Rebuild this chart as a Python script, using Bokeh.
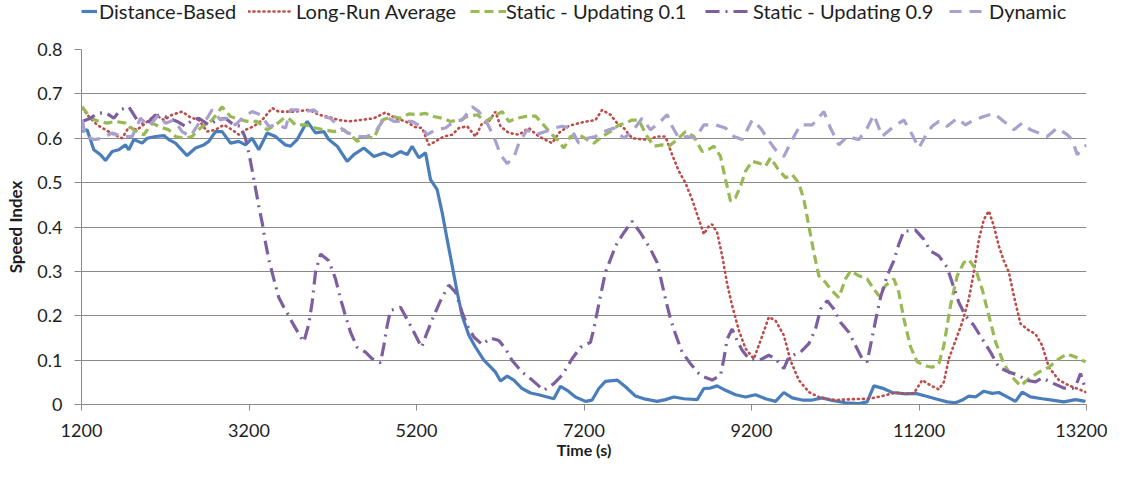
from bokeh.plotting import figure
from bokeh.layouts import column
from bokeh.models import Range1d, Legend, LegendItem, FixedTicker, SingleIntervalTicker
from bokeh.embed import file_html
from bokeh.resources import INLINE

# ---------------- data ----------------
t_distance = [1208, 1267, 1347, 1427, 1486, 1566, 1645, 1725, 1765, 1825, 1924, 1984, 2083, 2183, 2242,
              2322, 2461, 2561, 2660, 2720, 2800, 2879, 2979, 3078, 3158, 3237, 3317, 3417, 3516, 3635,
              3696, 3775, 3895, 3994, 4094, 4153, 4253, 4372, 4452, 4571, 4691, 4810, 4910, 5009, 5089,
              5148, 5228, 5308, 5367, 5447, 5507, 5566, 5626, 5686, 5745, 5825, 5905, 6004, 6104, 6143,
              6203, 6282, 6362, 6461, 6561, 6660, 6760, 6840, 6919, 6999, 7098, 7218, 7297, 7377, 7456,
              7596, 7695, 7815, 7934, 8073, 8173, 8272, 8392, 8551, 8631, 8710, 8790, 8890, 9009, 9129,
              9248, 9367, 9487, 9586, 9686, 9805, 9925, 10044, 10163, 10323, 10482, 10581, 10661, 10760,
              10880, 11039, 11158, 11278, 11417, 11537, 11636, 11716, 11795, 11875, 11974, 12074, 12153,
              12253, 12352, 12432, 12531, 12671, 12790, 12929, 13069, 13188]
distance_based = [0.615, 0.619, 0.574, 0.563, 0.55, 0.57, 0.574, 0.585, 0.574, 0.597, 0.589, 0.6, 0.604,
                  0.606, 0.597, 0.589, 0.561, 0.578, 0.585, 0.593, 0.615, 0.615, 0.589, 0.593, 0.585, 0.6,
                  0.574, 0.612, 0.604, 0.585, 0.582, 0.597, 0.638, 0.612, 0.615, 0.597, 0.582, 0.548, 0.563,
                  0.578, 0.559, 0.567, 0.559, 0.57, 0.563, 0.582, 0.556, 0.567, 0.507, 0.484, 0.432, 0.372,
                  0.313, 0.253, 0.2, 0.156, 0.129, 0.1, 0.081, 0.073, 0.053, 0.064, 0.055, 0.036, 0.026,
                  0.022, 0.017, 0.013, 0.041, 0.032, 0.017, 0.007, 0.01, 0.036, 0.052, 0.055, 0.04, 0.019,
                  0.012, 0.007, 0.011, 0.017, 0.013, 0.011, 0.036, 0.037, 0.042, 0.032, 0.022, 0.017, 0.022,
                  0.013, 0.007, 0.027, 0.015, 0.01, 0.01, 0.015, 0.009, 0.004, 0.002, 0.006, 0.042, 0.037,
                  0.027, 0.024, 0.025, 0.019, 0.012, 0.006, 0.004, 0.01, 0.019, 0.017, 0.03, 0.025, 0.027,
                  0.017, 0.007, 0.028, 0.017, 0.013, 0.01, 0.006, 0.011, 0.007]

t_long_run = [1208, 1287, 1387, 1486, 1586, 1685, 1765, 1864, 1964, 2083, 2183, 2282, 2402, 2501, 2601,
              2700, 2800, 2899, 2999, 3078, 3158, 3257, 3357, 3476, 3556, 3636, 3755, 3915, 4034, 4173,
              4273, 4392, 4532, 4691, 4830, 4949, 5069, 5188, 5268, 5347, 5427, 5526, 5626, 5706, 5805,
              5905, 5984, 6064, 6143, 6203, 6302, 6422, 6541, 6660, 6820, 6899, 7019, 7138, 7238, 7337,
              7417, 7516, 7596, 7675, 7775, 7874, 7974, 8073, 8173, 8252, 8332, 8412, 8491, 8551, 8631,
              8690, 8731, 8790, 8850, 8910, 8969, 9049, 9129, 9228, 9308, 9407, 9487, 9586, 9666, 9765,
              9885, 10024, 10203, 10402, 10601, 10760, 10920, 11039, 11138, 11238, 11338, 11437, 11497,
              11556, 11636, 11716, 11795, 11855, 11915, 11974, 12034, 12094, 12153, 12213, 12273, 12332,
              12412, 12512, 12591, 12671, 12750, 12870, 12989, 13089, 13188]
long_run_average = [0.668, 0.649, 0.63, 0.619, 0.608, 0.6, 0.625, 0.619, 0.634, 0.653, 0.641, 0.653, 0.66,
                    0.647, 0.641, 0.615, 0.619, 0.63, 0.619, 0.608, 0.619, 0.627, 0.641, 0.668, 0.66, 0.66,
                    0.66, 0.664, 0.653, 0.647, 0.641, 0.638, 0.641, 0.645, 0.658, 0.645, 0.638, 0.625,
                    0.623, 0.585, 0.593, 0.604, 0.608, 0.623, 0.627, 0.604, 0.634, 0.638, 0.66, 0.627,
                    0.612, 0.608, 0.623, 0.604, 0.589, 0.612, 0.628, 0.634, 0.638, 0.641, 0.664, 0.653,
                    0.634, 0.623, 0.6, 0.598, 0.597, 0.604, 0.604, 0.563, 0.526, 0.499, 0.462, 0.428, 0.384,
                    0.402, 0.406, 0.387, 0.335, 0.271, 0.223, 0.167, 0.126, 0.103, 0.144, 0.197, 0.189,
                    0.156, 0.099, 0.055, 0.028, 0.015, 0.01, 0.012, 0.013, 0.019, 0.027, 0.024, 0.025,
                    0.055, 0.043, 0.034, 0.051, 0.103, 0.144, 0.185, 0.238, 0.298, 0.372, 0.417, 0.436,
                    0.402, 0.357, 0.324, 0.298, 0.245, 0.182, 0.167, 0.159, 0.133, 0.084, 0.055, 0.043,
                    0.036, 0.028]

t_static01 = [1208, 1307, 1407, 1506, 1606, 1725, 1825, 1944, 2043, 2143, 2242, 2322, 2421, 2521, 2620,
              2760, 2879, 2979, 3078, 3178, 3297, 3417, 3516, 3616, 3675, 3755, 3875, 3994, 4094, 4213,
              4333, 4432, 4492, 4591, 4691, 4790, 4910, 5009, 5109, 5208, 5308, 5407, 5507, 5606, 5725,
              5805, 5925, 6024, 6123, 6223, 6302, 6402, 6501, 6621, 6700, 6800, 6879, 6959, 7039, 7138,
              7238, 7317, 7417, 7516, 7616, 7695, 7775, 7854, 7954, 8034, 8133, 8213, 8312, 8412, 8511,
              8611, 8690, 8751, 8830, 8890, 8950, 9009, 9069, 9129, 9208, 9288, 9367, 9427, 9507, 9606,
              9686, 9765, 9825, 9885, 9945, 10004, 10084, 10163, 10243, 10323, 10382, 10482, 10581, 10661,
              10721, 10800, 10900, 10959, 11019, 11099, 11178, 11278, 11357, 11437, 11497, 11576, 11656,
              11736, 11795, 11875, 11954, 12034, 12114, 12213, 12312, 12412, 12512, 12631, 12750, 12870,
              12969, 13069, 13188]
static_updating_01 = [0.671, 0.645, 0.638, 0.634, 0.638, 0.634, 0.619, 0.608, 0.634, 0.625, 0.619, 0.604,
                      0.6, 0.604, 0.623, 0.641, 0.671, 0.649, 0.643, 0.638, 0.638, 0.619, 0.63, 0.645, 0.645,
                      0.63, 0.63, 0.623, 0.619, 0.615, 0.619, 0.604, 0.593, 0.604, 0.6, 0.641, 0.649, 0.645,
                      0.655, 0.653, 0.656, 0.649, 0.645, 0.638, 0.641, 0.649, 0.653, 0.638, 0.649, 0.66,
                      0.638, 0.645, 0.649, 0.65, 0.634, 0.612, 0.597, 0.578, 0.604, 0.608, 0.597, 0.589,
                      0.604, 0.615, 0.63, 0.634, 0.641, 0.641, 0.604, 0.582, 0.585, 0.582, 0.597, 0.615,
                      0.604, 0.57, 0.575, 0.582, 0.559, 0.507, 0.458, 0.466, 0.492, 0.526, 0.548, 0.544,
                      0.537, 0.556, 0.533, 0.511, 0.518, 0.499, 0.462, 0.402, 0.342, 0.29, 0.275, 0.256,
                      0.241, 0.283, 0.301, 0.29, 0.283, 0.26, 0.245, 0.268, 0.283, 0.253, 0.193, 0.13, 0.096,
                      0.087, 0.084, 0.092, 0.133, 0.223, 0.29, 0.32, 0.327, 0.305, 0.26, 0.2, 0.141, 0.092,
                      0.062, 0.042, 0.058, 0.073, 0.084, 0.103, 0.114, 0.107, 0.096]

t_static09 = [1208, 1307, 1387, 1486, 1586, 1665, 1765, 1864, 1964, 2063, 2143, 2242, 2342, 2441, 2521,
              2601, 2720, 2819, 2919, 3018, 3098, 3158, 3198, 3237, 3277, 3317, 3357, 3397, 3436, 3496,
              3556, 3616, 3675, 3716, 3795, 3855, 3915, 3954, 3994, 4054, 4153, 4233, 4293, 4352, 4412,
              4492, 4591, 4671, 4770, 4810, 4850, 4890, 5009, 5109, 5188, 5260, 5328, 5407, 5487, 5586,
              5666, 5745, 5805, 5885, 5984, 6084, 6183, 6262, 6342, 6461, 6581, 6720, 6840, 6939, 7058,
              7158, 7277, 7317, 7397, 7456, 7516, 7576, 7675, 7775, 7874, 7994, 8073, 8133, 8173, 8232,
              8292, 8372, 8471, 8571, 8631, 8731, 8830, 8870, 8910, 8969, 9029, 9089, 9168, 9288, 9407,
              9487, 9586, 9646, 9785, 9885, 9964, 10024, 10104, 10183, 10263, 10362, 10442, 10522, 10581,
              10621, 10681, 10740, 10820, 10900, 10959, 11019, 11099, 11158, 11258, 11338, 11437, 11536,
              11596, 11676, 11755, 11855, 11954, 12054, 12153, 12273, 12392, 12472, 12591, 12671, 12810,
              12929, 13029, 13069, 13128, 13188]
static_updating_09 = [0.638, 0.645, 0.656, 0.658, 0.645, 0.664, 0.671, 0.641, 0.63, 0.649, 0.653, 0.645,
                      0.638, 0.627, 0.641, 0.645, 0.63, 0.641, 0.645, 0.63, 0.627, 0.6, 0.567, 0.529, 0.488,
                      0.447, 0.41, 0.365, 0.327, 0.283, 0.241, 0.219, 0.2, 0.185, 0.159, 0.141, 0.182, 0.23,
                      0.298, 0.339, 0.324, 0.283, 0.238, 0.2, 0.163, 0.129, 0.118, 0.103, 0.094, 0.133,
                      0.178, 0.212, 0.219, 0.185, 0.156, 0.129, 0.163, 0.2, 0.234, 0.269, 0.253, 0.208,
                      0.178, 0.152, 0.135, 0.15, 0.144, 0.126, 0.099, 0.073, 0.055, 0.032, 0.047, 0.066,
                      0.103, 0.129, 0.14, 0.17, 0.245, 0.298, 0.327, 0.357, 0.387, 0.413, 0.387, 0.35, 0.32,
                      0.271, 0.238, 0.193, 0.159, 0.118, 0.092, 0.07, 0.062, 0.055, 0.066, 0.103, 0.148,
                      0.17, 0.144, 0.122, 0.103, 0.099, 0.111, 0.103, 0.081, 0.107, 0.118, 0.137, 0.17,
                      0.215, 0.234, 0.215, 0.185, 0.163, 0.133, 0.103, 0.096, 0.133, 0.189, 0.241, 0.29,
                      0.324, 0.361, 0.391, 0.391, 0.393, 0.372, 0.346, 0.335, 0.309, 0.275, 0.23, 0.2,
                      0.178, 0.148, 0.118, 0.084, 0.073, 0.066, 0.055, 0.051, 0.06, 0.047, 0.037, 0.036,
                      0.04, 0.07, 0.035]

t_dynamic = [1208, 1247, 1347, 1446, 1566, 1685, 1805, 1904, 2004, 2123, 2203, 2302, 2402, 2501, 2601,
             2700, 2760, 2859, 2939, 3038, 3138, 3237, 3337, 3436, 3536, 3636, 3696, 3775, 3875, 3974,
             4074, 4173, 4253, 4352, 4432, 4512, 4611, 4711, 4830, 4930, 5029, 5148, 5248, 5328, 5427,
             5546, 5646, 5745, 5865, 5945, 6024, 6123, 6203, 6282, 6362, 6422, 6521, 6621, 6740, 6840,
             6939, 7039, 7138, 7238, 7337, 7437, 7556, 7675, 7775, 7894, 7994, 8093, 8193, 8252, 8332,
             8431, 8531, 8631, 8770, 8890, 8989, 9089, 9208, 9308, 9387, 9487, 9586, 9686, 9785, 9925,
             10064, 10143, 10243, 10343, 10482, 10581, 10661, 10760, 10900, 11019, 11119, 11198, 11298,
             11357, 11437, 11536, 11656, 11755, 11855, 11974, 12094, 12213, 12332, 12432, 12531, 12631,
             12730, 12850, 12969, 13029, 13089, 13168, 13200]
dynamic = [0.641, 0.604, 0.597, 0.6, 0.612, 0.604, 0.604, 0.645, 0.627, 0.653, 0.634, 0.641, 0.615, 0.604,
           0.634, 0.645, 0.664, 0.641, 0.645, 0.63, 0.649, 0.66, 0.653, 0.627, 0.63, 0.623, 0.664, 0.664,
           0.66, 0.664, 0.649, 0.645, 0.63, 0.615, 0.608, 0.604, 0.604, 0.615, 0.649, 0.638, 0.638, 0.638,
           0.627, 0.608, 0.619, 0.623, 0.638, 0.641, 0.671, 0.66, 0.641, 0.604, 0.563, 0.543, 0.556, 0.589,
           0.619, 0.608, 0.615, 0.623, 0.627, 0.623, 0.589, 0.6, 0.604, 0.615, 0.623, 0.6, 0.615, 0.645,
           0.619, 0.634, 0.653, 0.627, 0.6, 0.604, 0.6, 0.63, 0.63, 0.623, 0.604, 0.597, 0.641, 0.623, 0.6,
           0.574, 0.559, 0.597, 0.63, 0.63, 0.66, 0.623, 0.585, 0.604, 0.597, 0.623, 0.653, 0.604, 0.627,
           0.641, 0.608, 0.578, 0.612, 0.627, 0.638, 0.627, 0.645, 0.63, 0.641, 0.649, 0.656, 0.638, 0.619,
           0.634, 0.619, 0.612, 0.604, 0.623, 0.608, 0.597, 0.563, 0.578, 0.585]

series_names = ["Distance-Based", "Long-Run Average", "Static - Updating 0.1",
                "Static - Updating 0.9", "Dynamic"]
x_ticks = [1200, 3200, 5200, 7200, 9200, 11200, 13200]
x_title = "Time (s)"
y_title = "Speed Index"

# ---------------- styles ----------------
FONT = "Lato"
TEXT = "#1e1e1e"
GRID = "#8a8a8a"
W = 1107
LEG_H = 26
MAIN_H = 461 - LEG_H

styles = [
    dict(color="#4A7EBB", line_width=3.2, line_dash="solid"),
    dict(color="#BE4B48", line_width=2.6, line_dash="1 4", line_cap="round"),
    dict(color="#98B954", line_width=3.2, line_dash="9 5"),
    dict(color="#7D5FA0", line_width=3.2, line_dash="14 6 2 6"),
    dict(color="#AAA0CE", line_width=3.2, line_dash="12 8"),
]
data = [(t_distance, distance_based), (t_long_run, long_run_average), (t_static01, static_updating_01),
        (t_static09, static_updating_09), (t_dynamic, dynamic)]

# ---------------- main chart ----------------
p = figure(width=W, height=MAIN_H, output_backend="svg", toolbar_location=None,
           x_range=Range1d(1200, 13200), y_range=Range1d(0, 0.8),
           min_border_left=81, min_border_right=21, min_border_top=23, min_border_bottom=55)
p.outline_line_color = None
p.background_fill_color = "white"
p.border_fill_color = "white"

for (tx, ty), st in zip(data, styles):
    p.line(tx, ty, **st)

p.xaxis.ticker = FixedTicker(ticks=x_ticks)
p.yaxis.ticker = SingleIntervalTicker(interval=0.1)
for ax in (p.xaxis[0], p.yaxis[0]):
    ax.axis_line_color = GRID
    ax.major_tick_line_color = GRID
    ax.minor_tick_line_color = None
    ax.major_tick_in = 0
    ax.major_label_text_font = FONT
    ax.major_label_text_font_size = "18px"
    ax.major_label_text_color = TEXT
    ax.axis_label_text_font = FONT
    ax.axis_label_text_font_style = "bold"
    ax.axis_label_text_color = TEXT
p.xaxis.major_tick_out = 6
p.xaxis.major_label_standoff = 13
p.xaxis.axis_label = x_title
p.xaxis.axis_label_text_font_size = "16px"
p.xaxis.axis_label_standoff = 0
p.yaxis.major_tick_out = 7
p.yaxis.major_label_standoff = 12
p.yaxis.axis_label = y_title
p.yaxis.axis_label_text_font_size = "17px"
p.yaxis.axis_label_standoff = 8

p.xgrid.grid_line_color = None
p.ygrid.grid_line_color = GRID
p.ygrid.grid_line_width = 1

# ---------------- legend strip above the chart ----------------
lg = figure(width=W, height=LEG_H, output_backend="svg", toolbar_location=None,
            x_range=Range1d(0, 1), y_range=Range1d(0, 1), x_axis_type=None, y_axis_type=None,
            min_border=0)
lg.outline_line_color = None
lg.border_fill_color = "white"
lg.background_fill_color = "white"
lg.xgrid.grid_line_color = None
lg.ygrid.grid_line_color = None
legend_x = [0, 167, 389, 624, 868]        # offsets from the plot-area left edge
glyph_w = [16, 44, 36, 48, 34]
standoff = [2, 4, 0, 0, 6]
for name, (tx, ty), st, lx, gw, so in zip(series_names, data, styles, legend_x, glyph_w, standoff):
    r = lg.line(tx, ty, **st)   # lies outside this strip's ranges, only feeds the legend glyph
    lg.add_layout(Legend(items=[LegendItem(label=name, renderers=[r])], location=(lx, 3),
                         label_text_font=FONT, label_text_font_size="20px", label_text_color=TEXT,
                         glyph_width=gw, glyph_height=20, label_height=20, label_standoff=so,
                         padding=0, margin=0, border_line_color=None, background_fill_alpha=0),
                  "center")

layout = column(lg, p, spacing=0)
open("out.html", "w").write(file_html(layout, INLINE))
